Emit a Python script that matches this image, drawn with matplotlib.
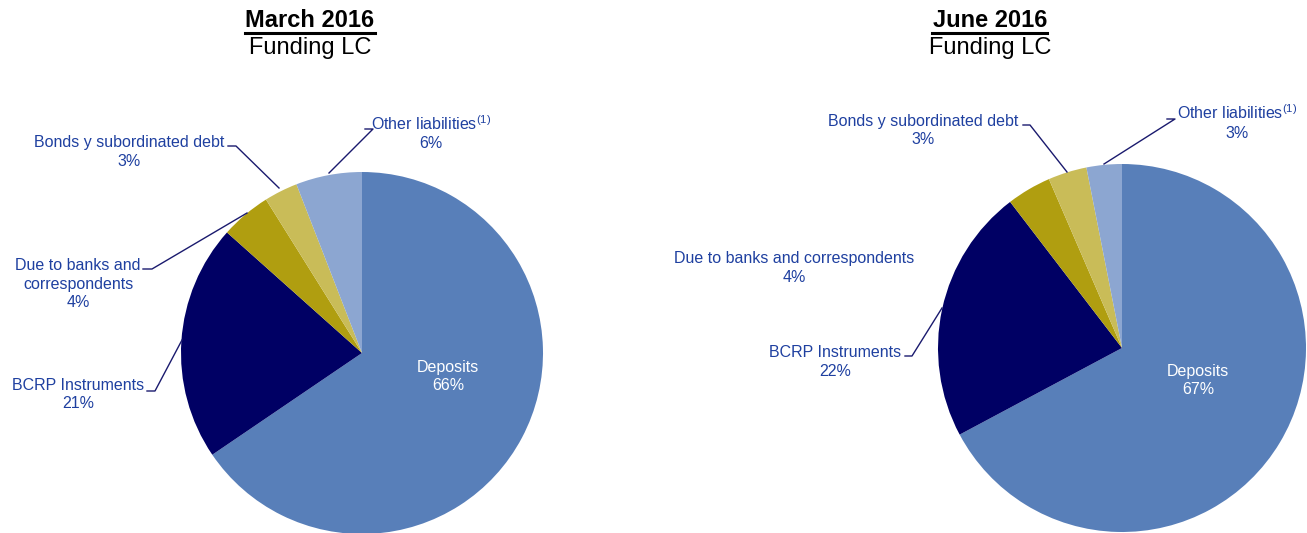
import matplotlib.pyplot as plt

plt.rcParams['font.family'] = ['Liberation Sans', 'DejaVu Sans']
plt.rcParams['mathtext.fontset'] = 'custom'
plt.rcParams['mathtext.rm'] = 'Liberation Sans'

W, H = 1307, 533

categories = ["Deposits", "BCRP Instruments", "Due to banks and correspondents",
              "Bonds y subordinated debt", "Other liabilities"]
colors = ["#587FB9", "#000064", "#B09E10", "#C9BC58", "#8CA6D1"]

march_values = [65.5, 21.1, 4.5, 3.0, 5.9]
june_values = [67.2, 22.4, 3.9, 3.4, 3.1]
march_pct = ["66%", "21%", "4%", "3%", "6%"]
june_pct = ["67%", "22%", "4%", "3%", "3%"]

TXT = "#1F40A0"
LEAD = "#1A1A6E"


def py(y):
    # pixel row (from top) -> data y (from bottom)
    return H - y


def label(ax, x, y0, lines, color=TXT, size=11.5, step=18.5):
    for i, s in enumerate(lines):
        ax.text(x, py(y0 + i * step), s, ha="center", va="baseline",
                fontsize=size, color=color)


def leader(ax, pts):
    ax.plot([p[0] for p in pts], [py(p[1]) for p in pts], color=LEAD, lw=1.0)


fig = plt.figure(figsize=(W / 100, H / 100), dpi=100)
ax = fig.add_axes([0, 0, 1, 1])

ax.pie(march_values, colors=colors, startangle=90, counterclock=False,
       center=(362, py(353)), radius=181, frame=True,
       wedgeprops=dict(linewidth=0))
ax.pie(june_values, colors=colors, startangle=90, counterclock=False,
       center=(1122, py(348)), radius=184, frame=True,
       wedgeprops=dict(linewidth=0))

ax.set_xlim(0, W)
ax.set_ylim(0, H)
ax.set_aspect("equal")
ax.axis("off")

# titles
for cx, t in [(310, "March 2016"), (990, "June 2016")]:
    ax.text(cx, py(27), t, ha="center", va="baseline", fontsize=17,
            fontweight="bold", color="black")
    ax.text(cx, py(54), "Funding LC", ha="center", va="baseline",
            fontsize=17, color="black")
ax.plot([245, 375], [py(32.5), py(32.5)], color="black", lw=2.2)
ax.plot([932, 1047], [py(32.5), py(32.5)], color="black", lw=2.2)

other = r"Other liabilities$^{\mathregular{(1)}}$"

# March labels
label(ax, 448, 372, ["Deposits", march_pct[0]], color="white")
label(ax, 78, 390, ["BCRP Instruments", march_pct[1]])
label(ax, 78, 270, ["Due to banks and", "correspondents", march_pct[2]])
label(ax, 129, 147, ["Bonds y subordinated debt", march_pct[3]])
label(ax, 431, 130, [other, march_pct[4]])
leader(ax, [(147, 391), (155, 391), (182, 340)])
leader(ax, [(143, 269), (152, 269), (247, 213)])
leader(ax, [(228, 146), (236, 146), (279, 188)])
leader(ax, [(365, 129), (373, 129), (329, 173)])

# June labels
label(ax, 1198, 376, ["Deposits", june_pct[0]], color="white")
label(ax, 835, 357, ["BCRP Instruments", june_pct[1]])
label(ax, 794, 263, ["Due to banks and correspondents", june_pct[2]])
label(ax, 923, 126, ["Bonds y subordinated debt", june_pct[3]])
label(ax, 1237, 119, [other, june_pct[4]])
leader(ax, [(905, 356), (912, 356), (942, 308)])
leader(ax, [(1023, 125), (1030, 125), (1067, 172)])
leader(ax, [(1167, 119), (1175, 119), (1104, 164)])

fig.savefig("out.png", dpi=100)
